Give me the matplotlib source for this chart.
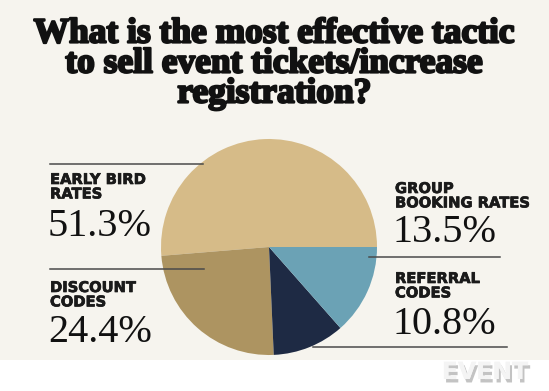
import matplotlib
matplotlib.use("Agg")
import matplotlib.pyplot as plt
import matplotlib.patheffects as pe

# ---- data ----
categories = ["EARLY BIRD\nRATES", "DISCOUNT\nCODES", "REFERRAL\nCODES", "GROUP\nBOOKING RATES"]
values = [51.3, 24.4, 10.8, 13.5]
pct_labels = ["51.3%", "24.4%", "10.8%", "13.5%"]
colors = ["#D6BB88", "#AD9461", "#1E2A44", "#6BA2B5"]
title_lines = ["What is the most effective tactic", "to sell event tickets/increase", "registration?"]

W, H = 549, 391
fig = plt.figure(figsize=(W / 100, H / 100), dpi=100)
fig.patch.set_facecolor("white")
ax = fig.add_axes([0, 0, 1, 1])

# background panel (cream)
ax.add_patch(plt.Rectangle((0, H - 360), W, 360, color="#F6F4EE", zorder=0, lw=0))

cx, cy, r = 269, H - 247, 108
ax.pie(values, colors=colors, startangle=0, counterclock=True,
       center=(cx, cy), radius=r, wedgeprops=dict(linewidth=0))

ax.set_xlim(0, W)
ax.set_ylim(0, H)
ax.set_aspect("auto")
ax.axis("off")

# title
heavy = [pe.withStroke(linewidth=1.6, foreground="#111111")]
for i, line in enumerate(title_lines):
    ax.text(W / 2, H - (34 + 30 * i), line, ha="center", va="center", fontsize=25.5,
            family="Liberation Serif", fontweight="bold", color="#111111",
            path_effects=heavy)

line_kw = dict(color="#4a4a4a", lw=1.1, zorder=3)
cat_kw = dict(fontsize=10.6, fontweight="bold", family="DejaVu Sans", color="#1a1a1a",
              va="top", ha="left", linespacing=0.95,
              path_effects=[pe.withStroke(linewidth=0.5, foreground="#1a1a1a")])
pct_kw = dict(fontsize=29, family="Liberation Serif", color="#111111",
              va="center", ha="left")

# leader lines
ax.plot([50, 203], [H - 164, H - 164], **line_kw)
ax.plot([50, 204], [H - 269, H - 269], **line_kw)
ax.plot([369, 500], [H - 257, H - 257], **line_kw)
ax.plot([313, 507], [H - 347, H - 347], **line_kw)

# left labels
ax.text(50, H - 172, categories[0], **cat_kw)
ax.text(48, H - 226, pct_labels[0], **pct_kw)
ax.text(50, H - 280, categories[1], **cat_kw)
ax.text(48, H - 333, pct_labels[1], **pct_kw)
# right labels
ax.text(395, H - 181, categories[3], **cat_kw)
ax.text(393, H - 233, pct_labels[3], **pct_kw)
ax.text(395, H - 271, categories[2], **cat_kw)
ax.text(393, H - 324, pct_labels[2], **pct_kw)

# logo
ax.text(485, H - 372, "EVENT", ha="center", va="center", fontsize=17, fontweight="bold",
        family="DejaVu Sans", color="#f4f4f4",
        path_effects=[pe.withSimplePatchShadow(offset=(1.5, -2.5), shadow_rgbFace="#888888", alpha=0.5), pe.Normal()])

fig.savefig("out.png", dpi=100, facecolor=fig.get_facecolor())
